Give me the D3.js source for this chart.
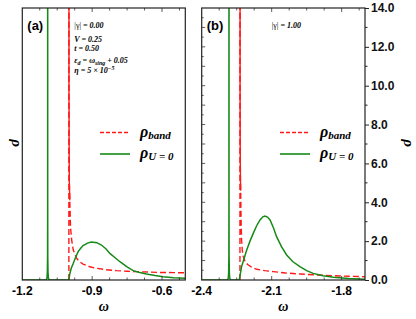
<!DOCTYPE html>
<html>
<head>
<meta charset="utf-8">
<script src="https://cdn.jsdelivr.net/npm/d3@7"></script>
<style>
  body { margin: 0; background: #fff; }
  svg { display: block; }
  .tick-label { font-family: "Liberation Sans", Arial, sans-serif; font-weight: bold; font-size: 12px; }
  .note { font-family: "Liberation Serif", "Times New Roman", serif; font-weight: bold; font-style: italic; font-size: 8px; }
</style>
</head>
<body>
<div id="area"></div>
<script>
// panel (a): omega in [-1.2, -0.5]
var xDomainA = [-1.2, -0.5],
    xTicksA = [-1.2, -0.9, -0.6];
// panel (b): omega in [-2.4, -1.7]
var xDomainB = [-2.4, -1.7],
    xTicksB = [-2.4, -2.1, -1.8];
var yTicks = [0, 2, 4, 6, 8, 10, 12, 14];

// rho_band (red dashed) and rho_U=0 (green), [omega, rho]
var redA = [[-1.0, 0], [-1.0, 40], [-0.9995, 10], [-0.999, 7.1], [-0.998, 5.0], [-0.996, 4.1],
  [-0.993, 2.74], [-0.988, 2.06], [-0.981, 1.54], [-0.967, 1.12], [-0.955, 0.95], [-0.939, 0.82],
  [-0.91, 0.68], [-0.881, 0.6], [-0.84, 0.53], [-0.795, 0.48], [-0.75, 0.45], [-0.71, 0.43],
  [-0.66, 0.41], [-0.61, 0.39], [-0.55, 0.38], [-0.5, 0.37]];
var greenA = [[-1.2, 0], [-1.102, 0], [-1.097, 0.02], [-1.094, 0.1], [-1.0925, 0.4], [-1.0915, 1.2],
  [-1.0912, 4], [-1.091, 60], [-1.0908, 4], [-1.0905, 1.2], [-1.0895, 0.4], [-1.088, 0.1],
  [-1.085, 0.02], [-1.08, 0], [-1.0, 0], [-0.996, 0.31], [-0.99, 0.6], [-0.981, 0.86],
  [-0.97, 1.2], [-0.96, 1.46], [-0.95, 1.62], [-0.939, 1.77], [-0.92, 1.9], [-0.903, 1.96],
  [-0.88, 1.92], [-0.86, 1.8], [-0.84, 1.6], [-0.824, 1.37], [-0.80, 1.13], [-0.781, 0.94],
  [-0.75, 0.68], [-0.724, 0.48], [-0.70, 0.4], [-0.667, 0.31], [-0.63, 0.23], [-0.596, 0.17],
  [-0.55, 0.12], [-0.5, 0.09]];
var redB = [[-2.236, 0], [-2.236, 40], [-2.2355, 10], [-2.235, 7], [-2.234, 5.2], [-2.233, 4.6],
  [-2.231, 3.0], [-2.229, 2.06], [-2.226, 1.55], [-2.222, 1.2], [-2.212, 0.9], [-2.2, 0.77],
  [-2.185, 0.66], [-2.164, 0.55], [-2.13, 0.48], [-2.093, 0.43], [-2.04, 0.36], [-1.979, 0.31],
  [-1.91, 0.26], [-1.836, 0.22], [-1.77, 0.19], [-1.7, 0.17]];
var greenB = [[-2.4, 0], [-2.294, 0], [-2.289, 0.02], [-2.286, 0.1], [-2.2845, 0.4], [-2.2835, 1.2],
  [-2.2832, 4], [-2.283, 60], [-2.2828, 4], [-2.2825, 1.2], [-2.2815, 0.4], [-2.28, 0.1],
  [-2.277, 0.02], [-2.272, 0], [-2.239, 0], [-2.229, 0.69], [-2.218, 1.12], [-2.207, 1.54],
  [-2.193, 2.0], [-2.179, 2.4], [-2.165, 2.78], [-2.15, 3.09], [-2.138, 3.25], [-2.129, 3.29],
  [-2.118, 3.24], [-2.107, 3.09], [-2.093, 2.7], [-2.079, 2.23], [-2.058, 1.72], [-2.036, 1.29],
  [-2.01, 0.95], [-1.979, 0.69], [-1.95, 0.48], [-1.922, 0.34], [-1.88, 0.22], [-1.836, 0.14],
  [-1.77, 0.08], [-1.7, 0.04]];

var width = 416, height = 319;
var top_y = 8, bottom_y = 280;
var red = '#ff1a1a', green = '#168a16';

var svg = d3.select('#area').append('svg')
    .attr('width', width).attr('height', height);

var y = d3.scaleLinear().domain([0, 14]).range([bottom_y, top_y]);

function drawPanel(id, left, right, xDomain, xTicks, redData, greenData, label, gammaText, showParams, legendX) {
  var x = d3.scaleLinear().domain(xDomain).range([left, right]);
  var g = svg.append('g');

  g.append('clipPath').attr('id', 'clip' + id)
    .append('rect').attr('x', left).attr('y', top_y)
    .attr('width', right - left).attr('height', bottom_y - top_y);

  var line = d3.line().x(function(d) { return x(d[0]); }).y(function(d) { return y(d[1]); });
  var plot = g.append('g').attr('clip-path', 'url(#clip' + id + ')');

  plot.append('path').datum(redData)
    .attr('d', line).attr('fill', 'none').attr('stroke', red)
    .attr('stroke-width', 1.4).attr('stroke-dasharray', '6,3');
  // steep part of the band edge looks solid
  plot.append('path').datum(redData.filter(function(d) { return d[1] >= 3.5; }))
    .attr('d', line).attr('fill', 'none').attr('stroke', red).attr('stroke-width', 1.4);
  plot.append('path').datum(greenData)
    .attr('d', line).attr('fill', 'none').attr('stroke', green).attr('stroke-width', 1.5);

  // ticks: major every 0.3, minor every 0.075, pointing inward top and bottom
  var minor = d3.range(0, 10).map(function(i) { return xDomain[0] + i * 0.075; })
    .filter(function(v) { return v < xDomain[1] - 1e-6 && v > xDomain[0] + 1e-6; });
  minor.forEach(function(v) {
    var isMajor = xTicks.some(function(t) { return Math.abs(t - v) < 1e-6; });
    var len = isMajor ? 4 : 2.5;
    g.append('line').attr('x1', x(v)).attr('x2', x(v)).attr('y1', bottom_y).attr('y2', bottom_y - len)
      .attr('stroke', '#333').attr('stroke-width', 0.8);
    g.append('line').attr('x1', x(v)).attr('x2', x(v)).attr('y1', top_y).attr('y2', top_y + len)
      .attr('stroke', '#333').attr('stroke-width', 0.8);
  });

  g.selectAll('.xl').data(xTicks).enter().append('text')
    .attr('class', 'tick-label')
    .attr('x', function(d) { return x(d); })
    .attr('y', 295)
    .attr('text-anchor', 'middle')
    .text(function(d) { return d.toFixed(1); });

  g.append('text').attr('x', (left + right) / 2).attr('y', 311)
    .attr('text-anchor', 'middle')
    .style('font-family', '"Liberation Serif", serif').style('font-style', 'italic')
    .style('font-weight', 'bold').style('font-size', '14px')
    .text('ω');

  g.append('rect').attr('x', left).attr('y', top_y)
    .attr('width', right - left).attr('height', bottom_y - top_y)
    .attr('fill', 'none').attr('stroke', '#222').attr('stroke-width', 1.2);

  g.append('text').attr('x', left + 5).attr('y', top_y + 22)
    .style('font-family', '"Liberation Sans", Arial, sans-serif').style('font-weight', 'bold')
    .style('font-size', '13px').text(label);

  // parameter notes
  var nx = showParams ? left + 52 : left + 70;
  var gt = g.append('text').attr('class', 'note').attr('x', nx).attr('y', 28);
  gt.append('tspan').style('font-style', 'normal').style('font-weight', 'normal').text('|γ|');
  gt.append('tspan').text(' = ' + gammaText);
  if (showParams) {
    g.append('text').attr('class', 'note').attr('x', nx).attr('y', 42).text('V = 0.25');
    g.append('text').attr('class', 'note').attr('x', nx).attr('y', 51).text('t = 0.50');
    var e = g.append('text').attr('class', 'note').attr('x', nx).attr('y', 63);
    e.append('tspan').text('ε');
    e.append('tspan').attr('dy', 2).style('font-size', '6px').text('d');
    e.append('tspan').attr('dy', -2).text(' = ω');
    e.append('tspan').attr('dy', 2).style('font-size', '6px').text('sing');
    e.append('tspan').attr('dy', -2).text(' + 0.05');
    var h = g.append('text').attr('class', 'note').attr('x', nx).attr('y', 73);
    h.append('tspan').text('η = 5 × 10');
    h.append('tspan').attr('dy', -3).style('font-size', '6px').text('−5');
  }

  // legend
  g.append('line').attr('x1', legendX).attr('x2', legendX + 30).attr('y1', 132.5).attr('y2', 132.5)
    .attr('stroke', red).attr('stroke-width', 1.4).attr('stroke-dasharray', '4,2');
  g.append('line').attr('x1', legendX).attr('x2', legendX + 30).attr('y1', 154).attr('y2', 154)
    .attr('stroke', green).attr('stroke-width', 1.6);
  var l1 = g.append('text').attr('x', legendX + 40).attr('y', 137)
    .style('font-family', '"Liberation Serif", serif').style('font-style', 'italic').style('font-weight', 'bold');
  l1.append('tspan').style('font-size', '16px').text('ρ');
  l1.append('tspan').attr('dy', 2).style('font-size', '11px').text('band');
  var l2 = g.append('text').attr('x', legendX + 40).attr('y', 158)
    .style('font-family', '"Liberation Serif", serif').style('font-style', 'italic').style('font-weight', 'bold');
  l2.append('tspan').style('font-size', '16px').text('ρ');
  l2.append('tspan').attr('dy', 2).style('font-size', '11px').text('U = 0');

  return x;
}

drawPanel('a', 22.3, 185.3, xDomainA, xTicksA, redA, greenA, '(a)', '0.00', true, 100);
var xb = drawPanel('b', 201.7, 365, xDomainB, xTicksB, redB, greenB, '(b)', '1.00', false, 280);

// panel (b) left ticks (inward) every 0.5
d3.range(0.5, 14, 0.5).forEach(function(v) {
  svg.append('line').attr('x1', 201.7).attr('x2', 201.7 + (v % 1 === 0 ? 3.5 : 2))
    .attr('y1', y(v)).attr('y2', y(v)).attr('stroke', '#333').attr('stroke-width', 0.8);
});

// right axis
var yAxis = d3.axisRight(y).tickValues(yTicks).tickSize(4).tickPadding(2)
  .tickFormat(function(d) { return d.toFixed(1); });
var ya = svg.append('g').attr('transform', 'translate(365,0)').call(yAxis);
ya.select('.domain').remove();
ya.selectAll('line').attr('stroke', '#222').attr('stroke-width', 1);
ya.selectAll('text').attr('class', 'tick-label').attr('fill', '#111')
  .style('font-family', '"Liberation Sans", Arial, sans-serif').style('font-weight', 'bold').style('font-size', '12px');
d3.range(1, 14, 2).forEach(function(v) {
  svg.append('line').attr('x1', 365).attr('x2', 367.5).attr('y1', y(v)).attr('y2', y(v))
    .attr('stroke', '#222').attr('stroke-width', 1);
});

// axis titles (rho, rotated)
[[12, 143], [404, 143]].forEach(function(p) {
  svg.append('text').attr('transform', 'translate(' + p[0] + ',' + p[1] + ') rotate(90)')
    .attr('text-anchor', 'middle')
    .style('font-family', '"Liberation Serif", serif').style('font-style', 'italic')
    .style('font-weight', 'bold').style('font-size', '15px')
    .text('ρ');
});
</script>
</body>
</html>
